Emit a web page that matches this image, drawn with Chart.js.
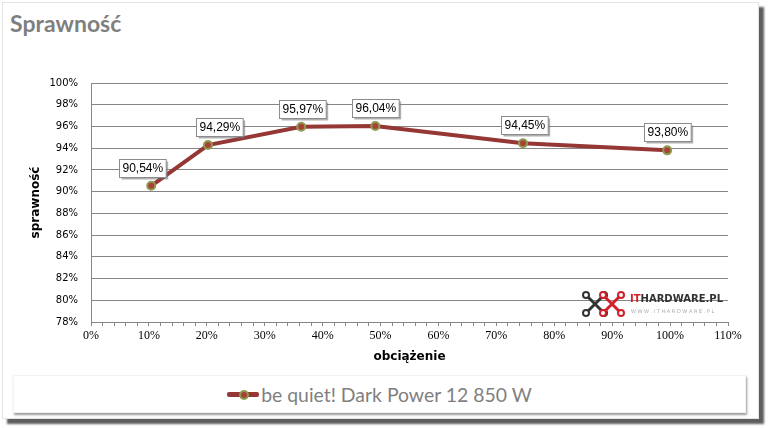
<!DOCTYPE html>
<html>
<head>
<meta charset="utf-8">
<script src="https://cdn.jsdelivr.net/npm/chart.js@4"></script>
<style>
html,body{margin:0;padding:0;background:#fff;width:768px;height:428px;overflow:hidden;}
#frame{position:absolute;left:2px;top:2px;width:755px;height:415px;background:#fff;border:1px solid #e4e4e4;box-shadow:5px 5px 2px rgba(40,40,40,0.75);}
#title{position:absolute;left:10px;top:9px;font-family:Lato,"Open Sans",sans-serif;font-weight:bold;font-size:23px;color:#7f7f7f;}
#wrap{position:absolute;left:0;top:0;width:768px;height:370px;}
#legend{position:absolute;left:13px;top:375px;width:731px;height:36px;background:#fff;border:1px solid #f2f2f2;box-shadow:1px 2px 2px rgba(90,90,90,0.6);display:flex;align-items:center;justify-content:center;}
#legend .txt{font-family:Lato,"Open Sans",sans-serif;font-size:19.4px;color:#7f7f7f;}
#legend .mk{position:relative;width:32px;height:10px;margin-right:2px;}
#legend .mk .ln{position:absolute;left:0;top:3px;width:32px;height:5px;background:#953735;border-radius:2px;}
#legend .mk .dt{position:absolute;left:12px;top:1px;width:6px;height:6px;border-radius:50%;background:#a9403a;border:2px solid #8e9d4f;}
</style>
</head>
<body>
<div id="frame"></div>
<div id="title">Sprawność</div>
<div id="wrap"><canvas id="c" width="768" height="370"></canvas></div>
<div id="legend"><div class="mk"><div class="ln"></div><div class="dt"></div></div><span class="txt">be quiet! Dark Power 12 850 W</span></div>
<script>
const seriesName = 'be quiet! Dark Power 12 850 W';
const loadPct = [10.4, 20.2, 36.3, 49.1, 74.6, 99.5];
const efficiency = [90.54, 94.29, 95.97, 96.04, 94.45, 93.80];
const efficiencyLabels = ['90,54%', '94,29%', '95,97%', '96,04%', '94,45%', '93,80%'];
const xAxisTitle = 'obciążenie';
const yAxisTitle = 'sprawność';

const labelDx = [-9, 11, 1, 0, 1, 0];

const dataLabels = {
  id: 'dataLabels',
  afterDatasetsDraw(chart) {
    const ctx = chart.ctx;
    const meta = chart.getDatasetMeta(0);
    ctx.save();
    ctx.font = '12px "Liberation Sans", Arial, sans-serif';
    ctx.textAlign = 'center';
    ctx.textBaseline = 'middle';
    meta.data.forEach((pt, i) => {
      const t = efficiencyLabels[i];
      const w = ctx.measureText(t).width + 6;
      const h = 18;
      const cx = pt.x + labelDx[i];
      const cy = pt.y - 18;
      const x0 = Math.round(cx - w / 2) + 0.5, y0 = Math.round(cy - h / 2) + 0.5;
      ctx.fillStyle = 'rgba(110,110,110,0.55)';
      ctx.fillRect(x0 + 2, y0 + 2, w, h);
      ctx.fillStyle = '#fff';
      ctx.fillRect(x0, y0, w, h);
      ctx.strokeStyle = '#8c8c8c';
      ctx.lineWidth = 1;
      ctx.strokeRect(x0, y0, w, h);
      ctx.fillStyle = '#000';
      ctx.fillText(t, x0 + w / 2, y0 + h / 2 + 0.5);
    });
    ctx.restore();
  }
};

const logo = {
  id: 'logo',
  beforeDatasetsDraw(chart) {
    const ctx = chart.ctx;
    ctx.save();
    const drawX = (ox, col) => {
      ctx.strokeStyle = col; ctx.lineWidth = 3; ctx.lineCap = 'round';
      ctx.beginPath();
      ctx.moveTo(ox, 295); ctx.lineTo(ox + 18, 313);
      ctx.moveTo(ox + 18, 295); ctx.lineTo(ox, 313);
      ctx.stroke();
      ctx.lineWidth = 2;
      [[ox, 295], [ox + 18, 295], [ox, 313], [ox + 18, 313]].forEach(p => {
        ctx.beginPath(); ctx.arc(p[0], p[1], 3, 0, Math.PI * 2);
        ctx.fillStyle = '#fff'; ctx.fill(); ctx.stroke();
      });
    };
    drawX(586, '#333');
    drawX(603, '#d0202a');
    ctx.font = 'bold 10px "DejaVu Sans", sans-serif';
    ctx.textBaseline = 'middle';
    ctx.textAlign = 'left';
    ctx.fillStyle = '#d0202a';
    ctx.fillText('IT', 630, 299);
    const w = ctx.measureText('IT').width;
    ctx.fillStyle = '#333';
    ctx.fillText('HARDWARE.PL', 630 + w, 299);
    ctx.font = '5px "DejaVu Sans", sans-serif';
    ctx.fillStyle = '#aaa';
    ctx.fillText('W W W . I T H A R D W A R E . P L', 631, 312);
    ctx.restore();
  }
};

new Chart(document.getElementById('c'), {
  type: 'line',
  data: {
    datasets: [{
      label: seriesName,
      data: loadPct.map((x, i) => ({ x: x, y: efficiency[i] })),
      borderColor: '#953735',
      borderWidth: 4,
      pointRadius: 4,
      pointBackgroundColor: '#a9403a',
      pointBorderColor: '#8e9d4f',
      pointBorderWidth: 2,
      tension: 0,
      fill: false
    }]
  },
  options: {
    responsive: false,
    animation: false,
    events: [],
    layout: { padding: { top: 83, right: 40, left: 0, bottom: 0 } },
    plugins: { legend: { display: false }, title: { display: false }, tooltip: { enabled: false } },
    scales: {
      x: {
        type: 'linear',
        min: 0, max: 110,
        afterFit: s => { s.height = 48; },
        ticks: {
          stepSize: 2,
          autoSkip: false,
          maxRotation: 0,
          padding: 3,
          color: '#000',
          font: { family: '"Liberation Serif", "Times New Roman", serif', size: 12 },
          callback: v => (Math.round(v) % 10 === 0 ? Math.round(v) + '%' : '')
        },
        grid: { drawOnChartArea: false, color: '#868686', tickLength: 4 },
        border: { color: '#868686' },
        title: {
          display: true, text: xAxisTitle, color: '#000',
          font: { family: '"DejaVu Sans", sans-serif', size: 12, weight: 'bold' },
          padding: { top: 6, bottom: 6 }
        }
      },
      y: {
        min: 78, max: 100,
        afterFit: s => { s.width = 91; },
        ticks: {
          stepSize: 2,
          padding: 13,
          color: '#000',
          font: { family: '"DejaVu Sans", sans-serif', size: 10 },
          callback: v => v + '%'
        },
        grid: { color: '#868686', drawTicks: false },
        border: { color: '#868686' },
        title: {
          display: true, text: yAxisTitle, color: '#000',
          font: { family: '"DejaVu Sans", sans-serif', size: 12, weight: 'bold' },
          padding: { top: 29, bottom: 0 }
        }
      }
    }
  },
  plugins: [dataLabels, logo]
});
</script>
</body>
</html>
